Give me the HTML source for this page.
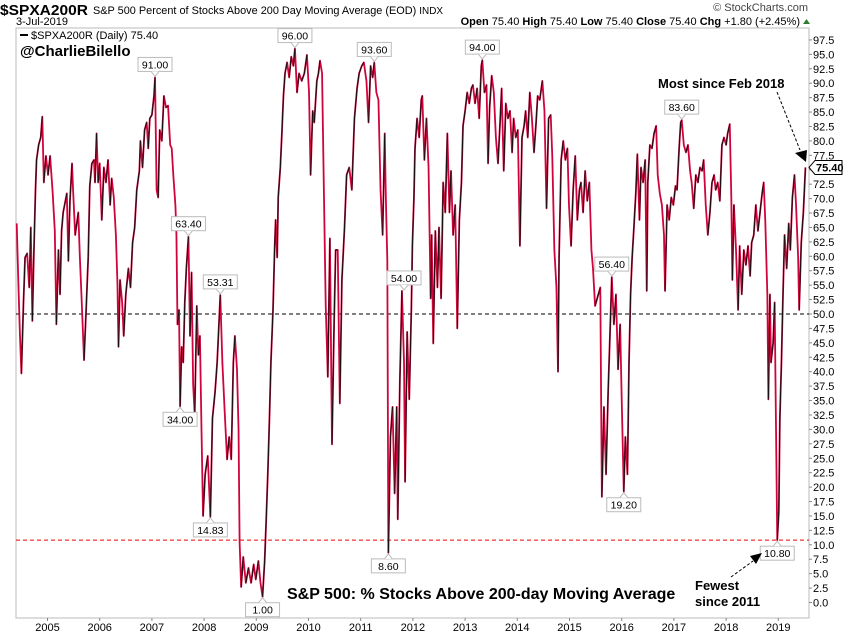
<!DOCTYPE html>
<html><head><meta charset="utf-8"><style>
html,body{margin:0;padding:0;background:#fff;}
body{width:850px;height:633px;overflow:hidden;font-family:"Liberation Sans",sans-serif;}
svg text{font-family:"Liberation Sans",sans-serif;}
</style></head><body>
<svg id="chart" width="850" height="633" viewBox="0 0 850 633" xmlns="http://www.w3.org/2000/svg">
<text x="0" y="15" font-size="15" font-weight="bold" textLength="88" lengthAdjust="spacingAndGlyphs">$SPXA200R</text>
<text x="93" y="14" font-size="11" textLength="350" lengthAdjust="spacingAndGlyphs">S&amp;P 500 Percent of Stocks Above 200 Day Moving Average (EOD)  <tspan font-size="10">INDX</tspan></text>
<text x="16" y="25" font-size="11">3-Jul-2019</text>
<text x="808" y="11" font-size="11" text-anchor="end" fill="#444">© StockCharts.com</text>
<text x="800" y="25" font-size="11" text-anchor="end"><tspan font-weight="bold">Open</tspan> 75.40  <tspan font-weight="bold">High</tspan> 75.40  <tspan font-weight="bold">Low</tspan> 75.40  <tspan font-weight="bold">Close</tspan> 75.40  <tspan font-weight="bold">Chg</tspan> +1.80 (+2.45%)</text>
<polygon points="803,24 810,24 806.5,19" fill="#2e7d32"/>
<rect x="16" y="28" width="793" height="590" fill="none" stroke="#bbb" stroke-width="1"/>
<g id="yaxis"></g>
<g id="xaxis"></g>
<g id="refs"></g>
<g id="series"></g>
<g id="labels"></g>
<line x1="20" y1="35" x2="28" y2="35" stroke="#000" stroke-width="2"/>
<text x="31" y="39" font-size="11">$SPXA200R (Daily) 75.40</text>
<text x="20" y="56" font-size="15" font-weight="bold">@CharlieBilello</text>
<text x="658" y="88" font-size="13" font-weight="bold">Most since Feb 2018</text>
<line x1="777" y1="92" x2="800" y2="150" stroke="#000" stroke-dasharray="3,2"/>
<polygon points="795,153 807,150 806,162" fill="#000"/>
<text x="695" y="590" font-size="13" font-weight="bold">Fewest</text>
<text x="695" y="606" font-size="13" font-weight="bold">since 2011</text>
<line x1="731" y1="577" x2="753" y2="561" stroke="#000" stroke-dasharray="3,2"/>
<polygon points="750,556 762,553 756,564" fill="#000"/>
<text x="287" y="599" font-size="16" font-weight="bold">S&amp;P 500: % Stocks Above 200-day Moving Average</text>
</svg>
<script>
const dates = [2004.41,2004.44,2004.47,2004.50,2004.54,2004.57,2004.61,2004.65,2004.68,2004.71,2004.74,2004.77,2004.79,2004.83,2004.87,2004.90,2004.93,2004.97,2005.01,2005.05,2005.10,2005.14,2005.17,2005.21,2005.24,2005.27,2005.30,2005.37,2005.40,2005.43,2005.47,2005.49,2005.53,2005.59,2005.62,2005.65,2005.70,2005.74,2005.78,2005.81,2005.85,2005.89,2005.91,2005.94,2005.97,2006.00,2006.04,2006.08,2006.12,2006.16,2006.20,2006.23,2006.27,2006.31,2006.34,2006.36,2006.39,2006.43,2006.46,2006.50,2006.55,2006.59,2006.63,2006.67,2006.71,2006.76,2006.78,2006.82,2006.86,2006.90,2006.93,2006.96,2007.00,2007.04,2007.06,2007.09,2007.12,2007.15,2007.19,2007.23,2007.27,2007.31,2007.35,2007.38,2007.41,2007.45,2007.47,2007.49,2007.52,2007.54,2007.57,2007.60,2007.63,2007.66,2007.70,2007.73,2007.76,2007.79,2007.82,2007.86,2007.89,2007.92,2007.95,2007.98,
2008.02,2008.07,2008.12,2008.16,2008.21,2008.25,2008.29,2008.31,2008.35,2008.39,2008.44,2008.48,2008.52,2008.56,2008.59,2008.63,2008.66,2008.68,2008.71,2008.75,2008.80,2008.85,2008.90,2008.95,2008.99,2009.04,2009.08,2009.12,2009.16,2009.19,2009.22,2009.25,2009.28,2009.32,2009.35,2009.37,2009.40,2009.42,2009.46,2009.49,2009.52,2009.55,2009.59,2009.63,2009.67,2009.71,2009.74,2009.78,2009.82,2009.87,2009.92,2009.97,2010.01,2010.04,2010.08,2010.11,2010.16,2010.19,2010.22,2010.26,2010.29,2010.33,2010.37,2010.41,2010.45,2010.49,2010.52,2010.56,2010.60,2010.64,2010.69,2010.73,2010.78,2010.83,2010.88,2010.93,2010.97,2011.02,2011.06,2011.11,2011.15,2011.19,2011.23,2011.26,2011.30,2011.34,2011.38,2011.42,2011.46,2011.48,2011.51,2011.53,2011.57,2011.61,2011.65,2011.69,2011.71,2011.75,2011.79,
2011.83,2011.85,2011.89,2011.93,2011.97,2011.99,2012.02,2012.04,2012.08,2012.12,2012.16,2012.18,2012.22,2012.26,2012.30,2012.34,2012.36,2012.39,2012.43,2012.47,2012.50,2012.54,2012.58,2012.62,2012.66,2012.70,2012.73,2012.77,2012.81,2012.85,2012.89,2012.93,2012.96,2013.00,2013.04,2013.08,2013.12,2013.15,2013.19,2013.23,2013.27,2013.31,2013.33,2013.37,2013.41,2013.44,2013.47,2013.51,2013.55,2013.59,2013.63,2013.67,2013.70,2013.74,2013.78,2013.82,2013.86,2013.90,2013.93,2013.97,2014.01,2014.05,2014.09,2014.13,2014.16,2014.20,2014.24,2014.28,2014.32,2014.36,2014.39,2014.43,2014.48,2014.52,2014.56,2014.60,2014.64,2014.67,2014.71,2014.75,2014.78,2014.80,2014.84,2014.88,2014.92,2014.96,2014.99,2015.03,2015.07,2015.11,2015.15,2015.19,2015.22,2015.26,2015.30,2015.34,2015.38,2015.42,2015.45,2015.49,
2015.59,2015.62,2015.66,2015.70,2015.74,2015.77,2015.81,2015.85,2015.89,2015.93,2015.97,2016.00,2016.04,2016.07,2016.11,2016.14,2016.17,2016.20,2016.23,2016.27,2016.30,2016.34,2016.37,2016.41,2016.45,2016.48,2016.50,2016.54,2016.58,2016.62,2016.66,2016.69,2016.73,2016.77,2016.81,2016.83,2016.87,2016.91,2016.95,2016.99,2017.03,2017.06,2017.10,2017.13,2017.15,2017.19,2017.23,2017.27,2017.31,2017.34,2017.38,2017.42,2017.46,2017.50,2017.54,2017.57,2017.61,2017.65,2017.69,2017.73,2017.77,2017.80,2017.84,2017.88,2017.92,2017.96,2018.00,2018.03,2018.07,2018.10,2018.12,2018.15,2018.19,2018.23,2018.26,2018.30,2018.34,2018.38,2018.42,2018.46,2018.49,2018.53,2018.57,2018.61,2018.65,2018.69,2018.72,2018.75,2018.79,2018.81,2018.84,2018.86,2018.90,2018.93,2018.95,2018.98,2019.01,2019.03,2019.06,2019.09,2019.12,2019.16,2019.20,2019.23,2019.27,2019.31,2019.34,2019.38,2019.40,2019.44,2019.48,2019.52];
const values = [65.7,56,46.9,39.7,52,59.8,60.5,54.6,65,48.8,61,71.5,76.7,79.3,80.6,84.2,72.8,77.4,74.1,77.4,70.9,64.4,48.2,61.1,53.4,64.4,67.6,70.9,59.2,69.6,76.1,71.5,63.7,67.6,59.8,53.4,42,50.7,59.8,72.2,76.1,76.7,72.8,81.3,72.8,76.1,66.3,75.4,72.8,76.7,68.9,73.5,70.2,63.7,55.3,44.3,55.9,52,46.2,53.4,57.9,54.6,62.4,65,71.5,74.8,80,75.4,81.9,83.2,78.7,83.9,84.5,87.8,91,71.5,70.2,81.9,80,87.8,85.8,86.1,79.3,78.7,74.1,68.9,63.7,48.2,50.7,34,44.3,41.6,52,57.9,63.4,46.2,57.2,37.8,32.6,51.4,42.9,46.2,30,15,
22.2,25.4,14.83,31.9,36.5,41.6,49.4,53.31,41.6,33.9,24.8,28.7,24.8,41.6,46.2,40.4,30,10.5,2.7,7.9,3.4,6,3.4,6.6,4,7.2,3.4,1,7.2,14.4,22.2,31.3,41.6,50.7,61.1,66.3,59.8,70.2,75.4,81.3,87.8,91.7,93.6,91,94.6,93,96,88.4,91.7,90.4,91.7,94.9,88.4,74.1,85.2,83.2,90.4,91.7,93.9,91.7,74.1,51.4,39.1,63.1,27.4,48.2,61.1,61.1,34.5,55.9,65,74.1,75.4,71.5,83.9,89.1,91.7,93,93.6,90.4,83.2,93,91,93.6,88.4,87.1,71.5,63.7,81.3,70.9,59.2,8.6,28.7,33.9,18.9,33.9,14.4,38.4,54,
41.6,20.9,46.9,35.2,50.7,61.8,70.2,78.7,83.9,80.6,87.1,87.8,76.7,83.9,75.4,52.7,63.7,44.9,64.4,54.6,65,52.7,72.8,67.6,81.3,67.6,74.8,63.7,68.9,47.5,66.3,72.8,82.6,85.2,88.4,86.5,89.1,89.7,86.5,89.1,83.9,93,94,88.4,89.7,76.1,85.8,91.3,88.4,80.6,76.1,83.2,89.1,74.8,86.5,83.9,85.2,78,83.9,80.6,81.9,61.8,80.6,82.6,85.2,80.6,88.4,83.9,78,83.2,87.8,87.1,90.4,85.2,68.3,83.9,84.5,77.4,61.1,54.6,40,59.8,76.7,80,76.7,78.7,68.9,61.8,71.5,77.4,66.3,71.5,72.8,67.6,74.8,69.6,72.8,61.1,57.9,51.4,
54.6,18.3,33.9,22.2,36.5,44.9,56.4,48.2,53.4,40.4,48.2,35.2,19.2,28.7,22.2,41.6,53.4,59.8,64.4,70.9,77.7,66.3,75.4,72.8,76.7,54,72.8,79.3,78.7,81.3,82.6,74.1,70.9,68.9,63.7,54,68.9,66.3,70.2,68.9,72.2,71.5,78.7,83.2,83.6,79.3,78,79.3,74.8,72.8,68.3,74.1,72.8,75.4,74.8,76.7,68.9,63.7,67.6,72.8,74.1,71.5,72.8,69.6,79.3,80.6,79.3,81.3,82.9,70.2,55.9,68.9,61.1,50.7,61.8,53.4,61.1,58.5,61.8,56.6,62.4,63.7,68.9,64.4,67.6,70.9,72.8,66.3,53.4,35.2,53.4,41.6,44.9,52,35.2,10.8,15.7,31.9,41.6,53.4,63.7,57.9,65.7,61.1,70.2,74.1,68.9,59.8,50.7,62.4,67.6,75.4];
const yTicks = [0,2.5,5,7.5,10,12.5,15,17.5,20,22.5,25,27.5,30,32.5,35,37.5,40,42.5,45,47.5,50,52.5,55,57.5,60,62.5,65,67.5,70,72.5,75,77.5,80,82.5,85,87.5,90,92.5,95,97.5];
const years = [2005,2006,2007,2008,2009,2010,2011,2012,2013,2014,2015,2016,2017,2018,2019];
const annoValues = [91.00,96.00,93.60,94.00,83.60,63.40,53.31,54.00,56.40,34.00,14.83,1.00,8.60,19.20,10.80];
const annoDates = [2007.06,2009.74,2011.26,2013.33,2017.15,2007.70,2008.31,2011.83,2015.81,2007.54,2008.12,2009.12,2011.53,2016.04,2018.98];
const annoSide = ["up","up","up","up","up","up","up","up","up","down","down","down","down","down","down"];
const refLevels = [50, 10.8];
const lastValue = 75.40;

const NS = "http://www.w3.org/2000/svg";
const X = t => 778.3 + (t - 2019) * 52.2;
const Y = v => 602.5 - v * 5.77;
function mk(tag, attrs, parent){const e=document.createElementNS(NS,tag);for(const k in attrs)e.setAttribute(k,attrs[k]);parent.appendChild(e);return e;}

const ya=document.getElementById('yaxis');
yTicks.forEach(v=>{
  const t=mk('line',{x1:809,y1:Y(v),x2:812,y2:Y(v),stroke:'#888'},ya);
  
  
  if(Math.abs(v-lastValue)<1.3) return;
  const l=mk('text',{x:813,y:Y(v)+4,'font-size':11},ya);
  
  
  l.textContent=v.toFixed(1);
});
const xa=document.getElementById('xaxis');
years.forEach(yr=>{
  const t=mk('line',{x1:X(yr),y1:618,x2:X(yr),y2:621,stroke:'#888'},xa);
  
  
  const l=mk('text',{x:X(yr),y:631,'font-size':11,'text-anchor':'middle'},xa);
  
  
  l.textContent=yr;
});
const rf=document.getElementById('refs');
refLevels.forEach((v,i)=>{
  const l=mk('line',{x1:16,y1:Y(v),x2:809,y2:Y(v),stroke:i?'#e00':'#000','stroke-dasharray':'4,3','stroke-width':1},rf);
  
  
});
const sg=document.getElementById('series');
const pts=dates.map((d,i)=>X(d)+','+Y(values[i])).join(' ');
const base=mk('polyline',{points:pts,fill:'none',stroke:'#d0043c','stroke-width':1.8,'stroke-linejoin':'round'},sg);


for(let i=1;i<dates.length;i++){
  if(values[i]<values[i-1]) continue;
  const s=mk('line',{x1:X(dates[i-1]),y1:Y(values[i-1]),x2:X(dates[i]),y2:Y(values[i]),stroke:'#111','stroke-width':1},sg);
  
  
}
const lg=document.getElementById('labels');
annoValues.forEach((v,i)=>{
  const x=X(annoDates[i]), y=Y(v), w=34, h=14;
  const up=annoSide[i]==="up";
  const by=up? y-6-h : y+6;
  const g=mk('g',{},lg);
  
  
  mk('rect',{x:x-w/2,y:by,width:w,height:h,fill:'#fff',stroke:'#bbb'},g);
  mk('polyline',{points:up?`${x-4},${by+h} ${x},${y-1} ${x+4},${by+h}`:`${x-4},${by} ${x},${y+1} ${x+4},${by}`,fill:'#fff',stroke:'#bbb'},g);
  const t=mk('text',{x:x,y:by+11,'font-size':10.5,'text-anchor':'middle'},g);
  t.textContent=v.toFixed(2);
});
const tg=mk('g',{},document.getElementById('chart'));


const ly=Y(lastValue);
mk('polygon',{points:`809,${ly} 815,${ly-7} 842,${ly-7} 842,${ly+7} 815,${ly+7}`,fill:'#fff',stroke:'#000'},tg);
const lt=mk('text',{x:816,y:ly+4,'font-size':11,'font-weight':'bold'},tg);
lt.textContent=lastValue.toFixed(2);
</script>
</body></html>
